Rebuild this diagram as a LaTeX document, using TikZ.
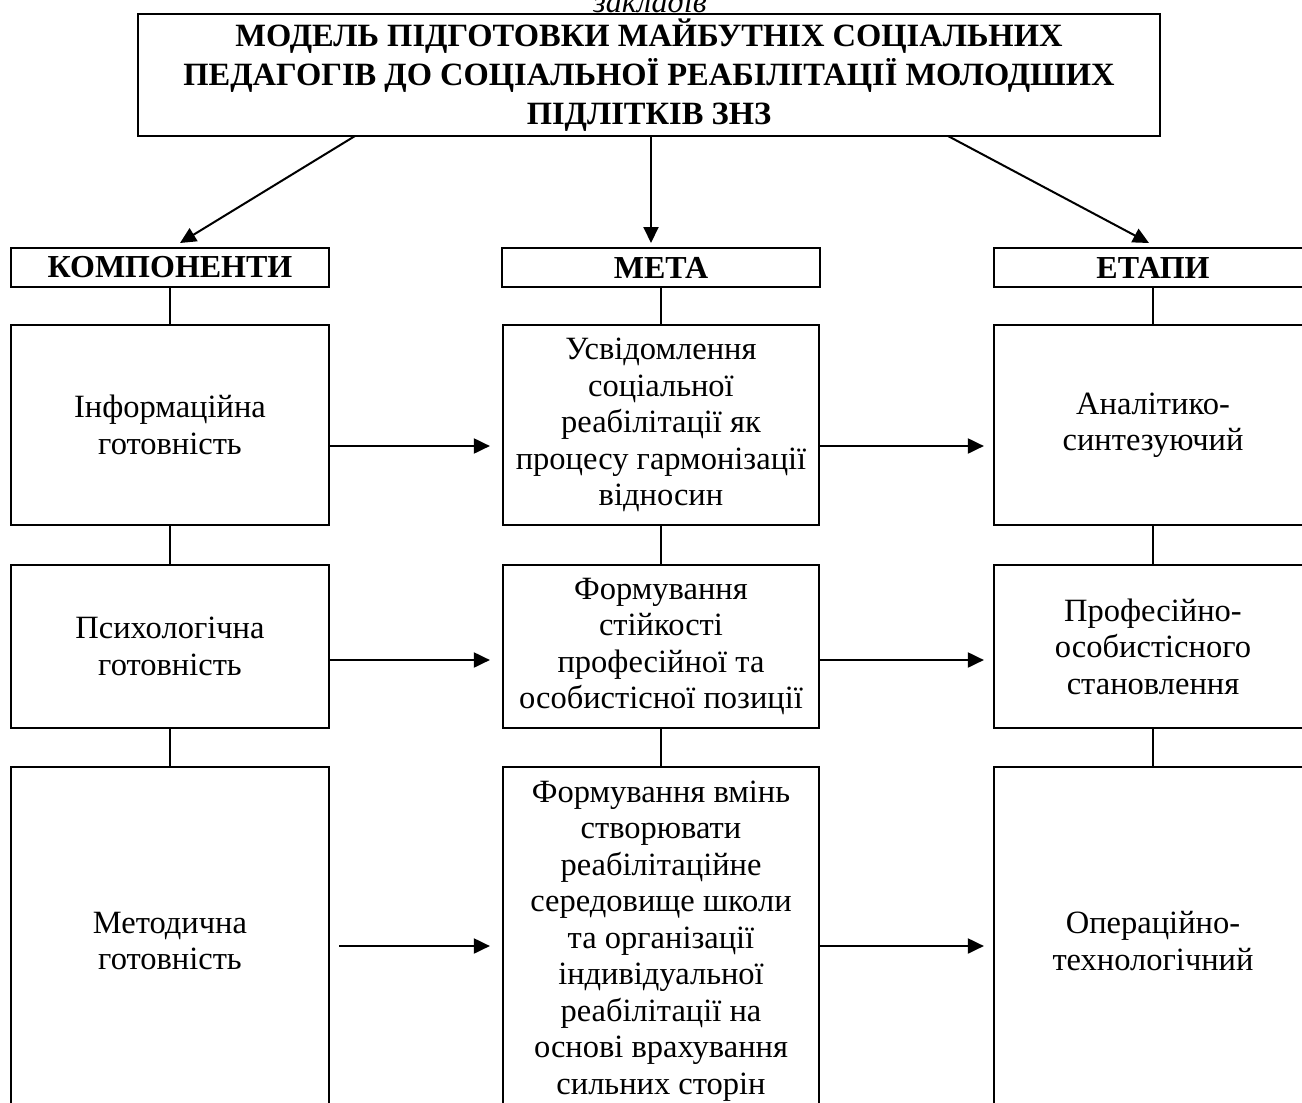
\documentclass[tikz,border=0pt]{standalone}
\usepackage{fontspec}
\setmainfont{Liberation Serif}
\usetikzlibrary{arrows.meta}
\begin{document}
\begin{tikzpicture}[x=1pt,y=-1pt,
  box/.style={draw,line width=2.2pt,rectangle,inner sep=0pt,align=center,
    font=\fontsize{32.5}{36.5}\selectfont},
  hdr/.style={draw,line width=2.2pt,rectangle,inner sep=0pt,align=center,
    minimum width=318pt,minimum height=39pt,font=\fontsize{32}{36}\selectfont\bfseries},
  conn/.style={line width=2pt},
  arr/.style={line width=2pt,-{Triangle[length=16pt,width=15pt]}}]
\useasboundingbox (0,0) rectangle (1302,1103);
\clip (0,0) rectangle (1302,1103);
% cut-off caption at top
\node[anchor=base,font=\fontsize{32}{36}\selectfont\itshape,inner sep=0pt] (cap) at (650,12) {закладів};
% title
\node[box,minimum width=1022pt,minimum height=122pt,font=\fontsize{32.5}{39}\selectfont\bfseries] (title) at (649,75)
  {МОДЕЛЬ ПІДГОТОВКИ МАЙБУТНІХ СОЦІАЛЬНИХ\\ПЕДАГОГІВ ДО СОЦІАЛЬНОЇ РЕАБІЛІТАЦІЇ МОЛОДШИХ\\ПІДЛІТКІВ ЗНЗ};
% headers
\node[hdr] (hL) at (170,267.5) {КОМПОНЕНТИ};
\node[hdr] (hM) at (661,267.5) {МЕТА};
\node[hdr] (hR) at (1153,267.5) {ЕТАПИ};
% row 1
\node[box,minimum width=318pt,minimum height=200pt] (aL) at (170,425) {Інформаційна\\готовність};
\node[box,minimum width=316pt,minimum height=200pt] (aM) at (661,425) {Усвідомлення\\соціальної\\реабілітації як\\процесу гармонізації\\відносин};
\node[box,minimum width=318pt,minimum height=200pt] (aR) at (1153,425) {Аналітико-\\синтезуючий};
% row 2
\node[box,minimum width=318pt,minimum height=163pt] (bL) at (170,646.5) {Психологічна\\готовність};
\node[box,minimum width=316pt,minimum height=163pt] (bM) at (661,646.5) {Формування\\стійкості\\професійної та\\особистісної позиції};
\node[box,minimum width=318pt,minimum height=163pt] (bR) at (1153,646.5) {Професійно-\\особистісного\\становлення};
% row 3
\node[box,minimum width=318pt,minimum height=348pt] (cL) at (170,941) {Методична\\готовність};
\node[box,minimum width=316pt,minimum height=348pt] (cM) at (661,941) {Формування вмінь\\створювати\\реабілітаційне\\середовище школи\\та організації\\індивідуальної\\реабілітації на\\основі врахування\\сильних сторін};
\node[box,minimum width=318pt,minimum height=348pt] (cR) at (1153,941) {Операційно-\\технологічний};
% top arrows
\coordinate (t1) at (355,136);
\coordinate (t2) at (651,136);
\coordinate (t3) at (948,136);
\coordinate (e1) at (180,243);
\coordinate (e2) at (651,243);
\coordinate (e3) at (1149,243);
\draw[arr] (t1) -- (e1);
\draw[arr] (t2) -- (e2);
\draw[arr] (t3) -- (e3);
% vertical connectors
\foreach \c in {L,M,R}{
  \draw[conn] (h\c.south) -- (a\c.north);
  \draw[conn] (a\c.south) -- (b\c.north);
  \draw[conn] (b\c.south) -- (c\c.north);
}
% horizontal arrows
\draw[arr,shorten >=12pt] (aL.east |- 0,446) -- (aM.west |- 0,446);
\draw[arr,shorten >=9pt] (aM.east |- 0,446) -- (aR.west |- 0,446);
\draw[arr,shorten >=12pt] (bL.east |- 0,660) -- (bM.west |- 0,660);
\draw[arr,shorten >=9pt] (bM.east |- 0,660) -- (bR.west |- 0,660);
\draw[arr,shorten >=12pt,shorten <=9pt] (cL.east |- 0,946) -- (cM.west |- 0,946);
\draw[arr,shorten >=9pt] (cM.east |- 0,946) -- (cR.west |- 0,946);
\end{tikzpicture}
\end{document}
